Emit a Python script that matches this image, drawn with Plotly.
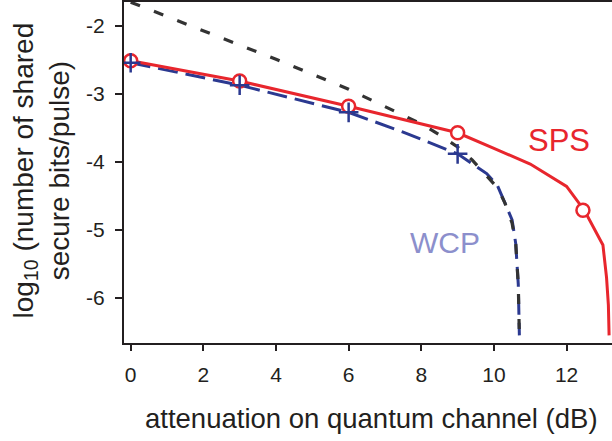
import plotly.graph_objects as go

# ---- data ----
# SPS curve (single-photon source)
sps_x = [0, 3, 6, 9, 10, 11, 12, 12.5, 13, 13.1, 13.15, 13.17]
sps_y = [-2.51, -2.81, -3.18, -3.57, -3.80, -4.03, -4.36, -4.72, -5.22, -5.7, -6.1, -6.55]
sps_mark_x = [0, 3, 6, 9, 12.45]
sps_mark_y = [-2.51, -2.81, -3.18, -3.57, -4.71]

# WCP curve (weak coherent pulses)
wcp_x = [0, 3, 6, 7.5, 9, 9.8, 10.1, 10.5, 10.6, 10.67, 10.7]
wcp_y = [-2.54, -2.87, -3.27, -3.56, -3.88, -4.17, -4.35, -4.85, -5.2, -5.8, -6.55]
wcp_mark_x = [0, 3, 6, 9]
wcp_mark_y = [-2.54, -2.87, -3.27, -3.88]

# black dashed (upper bound) curve
ub_x = [0, 2, 4, 6, 7, 8, 8.5, 9, 9.4, 9.85, 10.1, 10.3, 10.5, 10.6, 10.67, 10.7]
ub_y = [-1.65, -2.07, -2.49, -2.93, -3.18, -3.44, -3.60, -3.78, -3.97, -4.24, -4.38, -4.6, -4.9, -5.2, -5.8, -6.55]

x_ticks = [0, 2, 4, 6, 8, 10, 12]
x_ticktext = ["0", "2", "4", "6", "8", "10", "12"]
y_ticks = [-2, -3, -4, -5, -6]
y_ticktext = ["-2", "-3", "-4", "-5", "-6"]

RED = "#e8262d"
BLUE = "#2b3990"
BLACK = "#333333"
AX = "#231f20"
FONT = "Liberation Sans, Arial, Helvetica, sans-serif"

fig = go.Figure()
fig.add_trace(go.Scatter(x=wcp_x, y=wcp_y, mode="lines",
                         line=dict(color=BLUE, width=3, dash="20px,8px"),
                         showlegend=False))
fig.add_trace(go.Scatter(x=ub_x, y=ub_y, mode="lines",
                         line=dict(color=BLACK, width=3.2, dash="10px,15px"),
                         showlegend=False))
fig.add_trace(go.Scatter(x=sps_x, y=sps_y, mode="lines",
                         line=dict(color=RED, width=3),
                         showlegend=False))
fig.add_trace(go.Scatter(x=sps_mark_x, y=sps_mark_y, mode="markers",
                         marker=dict(symbol="circle", size=13, color="white",
                                     line=dict(color=RED, width=2.5)),
                         showlegend=False))
fig.add_trace(go.Scatter(x=wcp_mark_x, y=wcp_mark_y, mode="markers",
                         marker=dict(symbol="cross-thin", size=14,
                                     line=dict(color=BLUE, width=2.5)),
                         showlegend=False))

fig.add_annotation(x=11.79, y=-3.68, text="SPS", showarrow=False,
                   font=dict(family=FONT, size=31, color=RED))
fig.add_annotation(x=8.65, y=-5.19, text="WCP", showarrow=False,
                   font=dict(family=FONT, size=30, color="#8c8fcc"))

# axis titles
fig.add_annotation(xref="paper", yref="paper", x=0.5, y=0, xanchor="center",
                   yanchor="middle", yshift=-75, xshift=3, showarrow=False,
                   text="attenuation on quantum channel (dB)",
                   font=dict(family=FONT, size=27.5, color=AX))
fig.add_annotation(xref="paper", yref="paper", x=0, y=0.5, xanchor="center",
                   yanchor="middle", xshift=-83, yshift=2, showarrow=False,
                   textangle=-90,
                   text="log<sub>10</sub> (number of shared<br>secure bits/pulse)",
                   font=dict(family=FONT, size=28, color=AX))

fig.update_layout(
    width=612, height=441,
    margin=dict(l=124, r=0, t=2, b=98),
    paper_bgcolor="white", plot_bgcolor="white",
    font=dict(family=FONT, color=AX),
    xaxis=dict(range=[-0.184, 13.25], tickvals=x_ticks, ticktext=x_ticktext,
               ticks="outside",
               ticklen=6, tickwidth=2, tickcolor=AX, showline=True,
               linewidth=2, linecolor=AX, mirror=True, showgrid=False,
               zeroline=False, tickfont=dict(size=21, color=AX),
               ticklabelstandoff=6),
    yaxis=dict(range=[-6.662, -1.647], tickvals=y_ticks, ticktext=y_ticktext,
               ticks="outside",
               ticklen=7, tickwidth=2, tickcolor=AX, showline=True,
               linewidth=2, linecolor=AX, showgrid=False, zeroline=False,
               tickfont=dict(size=21, color=AX), ticklabelstandoff=6),
)

fig.write_html(
    "out.html",
    config={"displayModeBar": False},
    post_script="document.body.style.margin='0';document.body.style.overflow='hidden';",
)
